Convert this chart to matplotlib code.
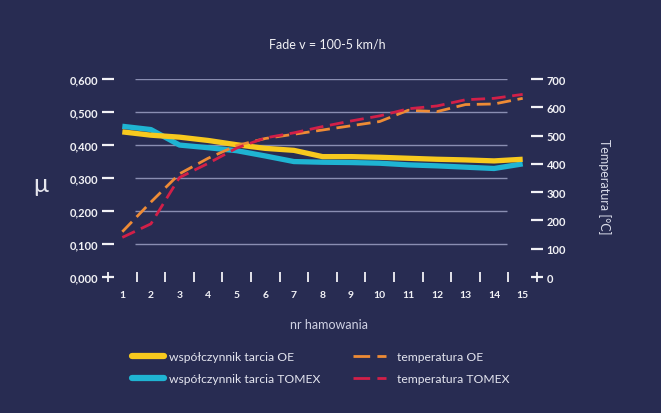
import matplotlib
matplotlib.use("Agg")
import matplotlib.pyplot as plt
import numpy as np
from matplotlib.lines import Line2D
from matplotlib.ticker import FixedLocator

plt.rcParams["font.family"] = ["Lato", "DejaVu Sans"]

# data
brakings = np.arange(1, 16)
mu_oe = [0.440, 0.430, 0.424, 0.414, 0.401, 0.390, 0.384, 0.365, 0.365,
         0.363, 0.360, 0.357, 0.355, 0.352, 0.357]
mu_tomex = [0.457, 0.447, 0.400, 0.392, 0.383, 0.367, 0.350, 0.348, 0.347,
            0.345, 0.340, 0.337, 0.333, 0.329, 0.343]
temp_oe = [160, 265, 365, 420, 465, 490, 505, 520, 535,
           550, 590, 585, 610, 612, 632]
temp_tomex = [140, 188, 352, 402, 456, 492, 510, 532, 552,
              570, 595, 605, 627, 632, 646]

mu_ticks = [0.0, 0.1, 0.2, 0.3, 0.4, 0.5, 0.6]
mu_labels = ["0,000", "0,100", "0,200", "0,300", "0,400", "0,500", "0,600"]
temp_ticks = [0, 100, 200, 300, 400, 500, 600, 700]

BG = "#282c52"
WHITE = "#f2f2f6"
GRID = "#8a8eb2"
YELLOW = "#f7c91e"
CYAN = "#1fb4d2"
ORANGE = "#ee8b35"
RED = "#d21f48"
DASH = (0, (5, 2.4))

fig = plt.figure(figsize=(6.61, 4.14), dpi=100, facecolor=BG)
ax = fig.add_axes([0.1634, 0.3285, 0.649, 0.478])
ax.set_facecolor(BG)
ax2 = ax.twinx()

ax.set_xlim(0.5, 15.5)
ax.set_ylim(0, 0.6)
ax2.set_ylim(0, 700)

ax.hlines(mu_ticks[1:], 1.45, 14.45, color=GRID, lw=1, zorder=1)

ax.plot(brakings, mu_tomex, color=CYAN, lw=3.8, solid_capstyle="butt",
        solid_joinstyle="round", zorder=3)
ax.plot(brakings, mu_oe, color=YELLOW, lw=3.8, solid_capstyle="butt",
        solid_joinstyle="round", zorder=4)
ax2.plot(brakings, temp_oe, color=ORANGE, lw=2, ls=DASH, zorder=5)
ax2.plot(brakings, temp_tomex, color=RED, lw=2, ls=DASH, zorder=6)

for s in list(ax.spines.values()) + list(ax2.spines.values()):
    s.set_visible(False)

ax.set_yticks(mu_ticks)
ax.set_yticklabels(mu_labels)
ax.tick_params(axis="y", colors=WHITE, direction="inout", length=8,
               width=1.6, labelsize=8, pad=3)
for t in ax.get_yticklabels():
    t.set_fontweight("bold")

ax2.set_yticks(temp_ticks)
ax2.tick_params(axis="y", colors=WHITE, direction="inout", length=8,
                width=1.6, labelsize=8, pad=3)
for t in ax2.get_yticklabels():
    t.set_fontweight("bold")

ax.set_xticks(brakings)
ax.xaxis.set_minor_locator(FixedLocator(np.arange(0.5, 16, 1.0)))
ax.tick_params(axis="x", which="major", length=0, pad=9, colors=WHITE,
               labelsize=7.5)
ax.tick_params(axis="x", which="minor", direction="inout", length=6.5,
               width=1.3, color=WHITE)
for t in ax.get_xticklabels():
    t.set_fontweight("bold")

fig.text(0.495, 0.892, "Fade v = 100-5 km/h", color=WHITE, fontsize=9,
         ha="center", va="center")
fig.text(0.497, 0.216, "nr hamowania", color="#d0d2e4", fontsize=9,
         ha="center", va="center")
fig.text(0.061, 0.555, "μ", color="#e6e6ee", fontsize=18,
         ha="center", va="center")
fig.text(0.915, 0.548, "Temperatura [°C]", color="#d8dae8", fontsize=9,
         rotation=270, ha="center", va="center")

# two legend columns placed separately
LDASH = (0, (6, 2.6))
common = dict(loc="upper left", frameon=False, fontsize=8.7,
              labelspacing=0.9, borderaxespad=0, borderpad=0)
leg1 = fig.legend(
    [Line2D([], [], color=YELLOW, lw=4.5, solid_capstyle="round"),
     Line2D([], [], color=CYAN, lw=4.5, solid_capstyle="round")],
    ["współczynnik tarcia OE", "współczynnik tarcia TOMEX"],
    bbox_to_anchor=(0.200, 0.149), handlelength=2.6, handletextpad=0.45,
    **common)
leg2 = fig.legend(
    [Line2D([], [], color=ORANGE, lw=2, ls=LDASH),
     Line2D([], [], color=RED, lw=2, ls=LDASH)],
    ["temperatura OE", "temperatura TOMEX"],
    bbox_to_anchor=(0.534, 0.149), handlelength=2.7, handletextpad=0.95,
    **common)
for leg in (leg1, leg2):
    for t in leg.get_texts():
        t.set_color("#e4e5ef")

fig.savefig("out.png", dpi=100, facecolor=BG)
